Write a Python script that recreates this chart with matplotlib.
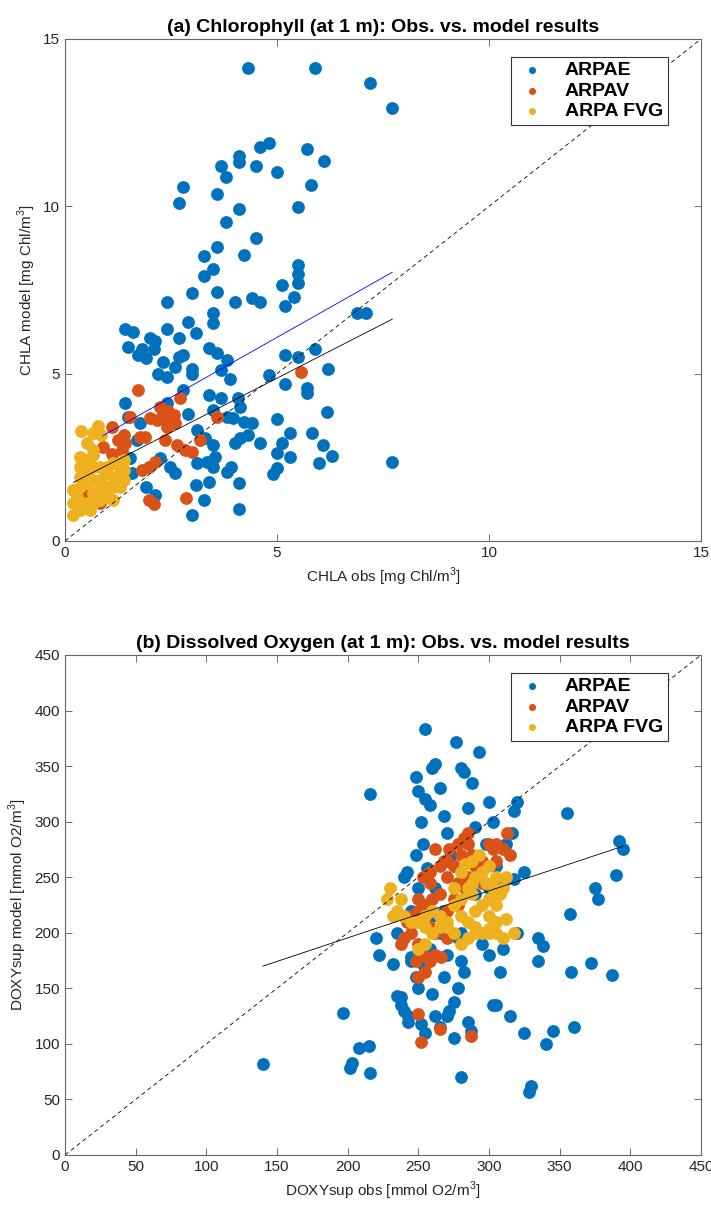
import numpy as np
import matplotlib
matplotlib.use("Agg")
import matplotlib.pyplot as plt

plt.rcParams['font.family'] = ['Liberation Sans', 'DejaVu Sans']
plt.rcParams['mathtext.fontset'] = 'custom'
plt.rcParams['mathtext.rm'] = 'Liberation Sans'

# colours (matlab default order)
c_arpae = '#0072BD'
c_arpav = '#D95319'
c_fvg = '#EDB120'

# ---- panel (a) chlorophyll ----
chl_arpae_x = [4.31, 5.90, 7.19, 7.72, 4.80, 4.60, 5.70, 4.10, 4.10, 3.69, 4.51, 6.11, 5.00, 3.80, 2.79,
               2.70, 3.59, 5.80, 4.10, 5.50, 3.80, 4.51, 3.59, 3.29, 4.21, 3.49, 5.50, 5.50, 3.29, 5.11,
               5.50, 5.41, 5.20, 4.40, 4.60, 4.01, 3.59, 3.00, 2.40, 3.48, 3.48, 2.89, 3.09, 2.40, 2.70,
               1.42, 1.61, 2.00, 2.12, 1.49, 1.81, 2.11, 1.71, 1.91, 2.30, 2.79, 2.70, 2.59, 2.20, 2.40,
               3.40, 3.59, 3.81, 3.69, 3.89, 3.00, 3.00, 2.79, 3.40, 3.69, 4.09, 4.13, 3.97, 4.21, 4.40,
               3.81, 3.50, 2.91, 2.40, 1.42, 1.49, 1.77, 3.11, 3.30, 3.50, 3.54, 3.34, 3.11, 3.50, 2.48,
               2.59, 2.24, 3.92, 3.81, 4.01, 4.13, 4.32, 4.60, 3.09, 3.40, 4.10, 3.29, 3.00, 4.10, 1.91,
               2.12, 1.57, 1.53, 1.69, 4.81, 5.20, 5.50, 5.90, 5.20, 5.70, 5.70, 6.21, 6.19, 5.01, 5.31,
               5.11, 5.01, 5.31, 5.82, 6.09, 6.29, 6.00, 5.01, 4.91, 6.88, 7.10, 7.72]
chl_arpae_y = [14.12, 14.14, 13.68, 12.93, 11.88, 11.78, 11.72, 11.50, 11.33, 11.22, 11.22, 11.36, 11.02, 10.87, 10.57,
               10.09, 10.36, 10.64, 9.91, 9.97, 9.53, 9.05, 8.77, 8.51, 8.55, 8.12, 8.24, 7.98, 7.92, 7.65,
               7.70, 7.30, 7.02, 7.25, 7.13, 7.13, 7.45, 7.42, 7.15, 6.80, 6.50, 6.55, 6.21, 6.32, 6.08,
               6.32, 6.25, 6.08, 5.98, 5.81, 5.73, 5.73, 5.56, 5.46, 5.36, 5.56, 5.49, 5.21, 4.99, 4.91,
               5.78, 5.61, 5.41, 5.11, 4.84, 5.14, 4.99, 4.51, 4.36, 4.26, 4.26, 4.01, 3.67, 3.57, 3.54,
               3.72, 3.91, 3.79, 4.11, 4.11, 3.72, 3.52, 3.32, 3.07, 2.87, 2.52, 2.37, 2.32, 2.22, 2.22,
               2.02, 2.47, 2.22, 2.07, 2.92, 3.07, 3.17, 2.92, 1.67, 1.77, 1.74, 1.23, 0.78, 0.95, 1.60,
               1.37, 2.02, 2.47, 3.02, 4.96, 5.56, 5.49, 5.73, 4.69, 4.56, 4.41, 5.13, 3.86, 3.64, 3.22,
               2.94, 2.64, 2.52, 3.22, 2.87, 2.54, 2.32, 2.17, 2.00, 6.80, 6.80, 2.35]

chl_arpav_x = [1.73, 2.71, 1.53, 2.24, 2.44, 2.56, 2.32, 2.16, 2.00, 2.48, 2.60, 2.40, 3.58, 1.12, 1.38,
               1.26, 1.42, 1.77, 1.89, 0.90, 1.34, 2.36, 2.63, 2.83, 2.99, 3.18, 2.12, 1.97, 1.81, 5.57,
               2.85, 1.97, 2.11, 0.39, 0.83, 1.10, 0.55]
chl_arpav_y = [4.51, 4.26, 3.72, 3.99, 3.87, 3.77, 3.77, 3.62, 3.67, 3.62, 3.52, 3.42, 3.72, 3.42, 3.17,
               3.02, 2.92, 3.12, 3.12, 2.82, 2.72, 3.02, 2.87, 2.72, 2.67, 3.02, 2.37, 2.22, 2.12, 5.06,
               1.29, 1.23, 1.10, 1.57, 1.13, 2.60, 1.30]

chl_fvg_x = [0.37, 0.79, 0.67, 0.86, 0.51, 0.67, 0.35, 0.51, 0.67, 0.35, 0.51, 0.67, 0.83, 0.98, 1.14,
             1.30, 1.38, 1.30, 1.14, 0.98, 0.83, 0.67, 0.51, 0.35, 0.35, 0.20, 0.20, 0.20, 0.35, 0.51,
             0.67, 0.83, 0.98, 1.14, 1.30, 0.98, 1.14, 0.83, 0.67, 0.59, 0.35, 0.28, 1.38, 1.38]
chl_fvg_y = [3.30, 3.44, 3.24, 3.17, 2.92, 2.72, 2.52, 2.42, 2.57, 2.22, 2.12, 2.22, 2.22, 2.22, 2.32,
             2.22, 2.12, 1.92, 1.92, 2.02, 1.82, 1.82, 1.72, 1.92, 1.62, 1.52, 1.13, 0.78, 0.93, 1.13,
             1.42, 1.52, 1.62, 1.62, 1.62, 1.32, 1.23, 1.23, 1.13, 0.93, 1.13, 1.32, 1.82, 2.42]

# regression lines (end points)
chl_fit_all_x = [0.20, 7.72]
chl_fit_all_y = [1.75, 6.63]
chl_fit_arpae_x = [0.90, 7.72]
chl_fit_arpae_y = [3.15, 8.03]

# ---- panel (b) oxygen ----
ox_arpae_x = [140, 197, 202, 203, 208, 215, 216, 216, 220, 222, 235, 238, 240, 243, 245, 248, 250, 252, 253,
              255, 255, 258, 260, 262, 265, 268, 270, 273, 275, 277, 280, 282, 285, 288, 290, 293, 298,
              300, 303, 290, 280, 278, 280, 282, 278, 275, 272, 270, 268, 265, 262, 260, 255, 252, 250,
              248, 245, 243, 240, 238, 275, 280, 285, 287, 295, 300, 303, 305, 308, 310, 315, 318, 320,
              320, 325, 325, 328, 330, 335, 335, 338, 340, 345, 355, 357, 358, 360, 372, 375, 377, 387,
              390, 392, 395, 310, 312, 316, 318, 305, 300, 260, 255, 250, 245, 235, 232, 242, 248, 256,
              262, 265, 268, 270, 258, 254, 250]
ox_arpae_y = [82, 128, 78, 83, 96, 98, 74, 325, 195, 180, 143, 135, 250, 125, 178, 340, 328, 300, 280,
              383, 320, 315, 348, 352, 330, 305, 290, 270, 260, 372, 348, 345, 312, 335, 295, 363, 280,
              318, 300, 235, 200, 195, 175, 165, 150, 138, 130, 125, 160, 115, 125, 145, 110, 118, 150,
              160, 175, 120, 130, 142, 105, 70, 120, 112, 190, 180, 135, 135, 165, 185, 125, 248, 200,
              318, 255, 110, 57, 62, 175, 195, 188, 100, 112, 308, 217, 165, 115, 173, 240, 230, 162,
              252, 283, 275, 245, 280, 290, 310, 260, 240, 215, 225, 240, 220, 200, 172, 255, 270, 258,
              240, 200, 220, 180, 185, 170, 160]

ox_arpav_x = [252, 265, 287, 250, 255, 250, 248, 253, 258, 262, 266, 270, 262, 258, 250, 245, 240, 242,
              238, 250, 255, 260, 265, 270, 275, 280, 285, 288, 290, 292, 283, 278, 275, 270, 265, 268,
              272, 278, 282, 285, 300, 303, 305, 310, 315, 313, 305, 295, 262, 265, 258, 253, 250, 270,
              258, 278, 285, 295, 245, 250]
ox_arpav_y = [102, 113, 107, 127, 165, 160, 175, 180, 175, 180, 178, 195, 200, 205, 210, 200, 195, 210,
              190, 220, 225, 230, 235, 250, 260, 270, 280, 270, 260, 250, 240, 245, 230, 220, 215, 265,
              275, 280, 285, 290, 280, 275, 280, 275, 270, 290, 265, 265, 275, 260, 245, 250, 230, 265,
              255, 225, 250, 245, 215, 190]

ox_fvg_x = [230, 228, 235, 240, 250, 255, 260, 265, 270, 265, 260, 255, 275, 280, 285, 290, 295, 300,
            305, 310, 318, 290, 295, 300, 305, 310, 312, 305, 300, 295, 290, 285, 280, 283, 288, 293,
            298, 303, 308, 288, 275, 280, 250, 245, 255, 238, 232, 290, 300, 312, 300, 305, 270, 275,
            280, 285, 288]
ox_fvg_y = [240, 230, 220, 215, 210, 205, 200, 205, 210, 215, 220, 215, 225, 215, 210, 205, 200, 200,
            200, 195, 200, 220, 225, 230, 225, 240, 250, 250, 260, 255, 250, 240, 255, 262, 265, 270,
            245, 240, 235, 235, 240, 230, 185, 210, 190, 230, 215, 200, 215, 212, 203, 210, 205, 200,
            190, 195, 245]

ox_fit_x = [140, 395]
ox_fit_y = [170, 278]

fig = plt.figure(figsize=(7.11, 12.05), dpi=100)
ax1 = fig.add_axes([65 / 711, 1 - 541 / 1205, 636 / 711, 502 / 1205])
ax2 = fig.add_axes([65 / 711, 1 - 1155 / 1205, 636 / 711, 500 / 1205])

txtcol = '#262626'
msize = 85


def style_axes(ax, lim, ticks, xlabel, ylabel, title):
    ax.set_xlim(0, lim)
    ax.set_ylim(0, lim)
    ax.set_xticks(ticks)
    ax.set_yticks(ticks)
    ax.tick_params(direction='in', length=5, width=0.6, top=True, right=True,
                   labelsize=11, colors='#555555', labelcolor=txtcol)
    for s in ax.spines.values():
        s.set_color('#666666')
        s.set_linewidth(0.8)
    ax.set_xlabel(xlabel, fontsize=11, color=txtcol)
    ax.set_ylabel(ylabel, fontsize=11, color=txtcol)
    ax.set_title(title, fontsize=14, fontweight='bold', pad=5)


# panel a
ax1.plot([0, 15], [0, 15], '--', color='k', lw=0.6, dashes=(5, 4), zorder=3)
ax1.scatter(chl_arpae_x, chl_arpae_y, s=msize, color=c_arpae, lw=0, label='ARPAE', zorder=2)
ax1.scatter(chl_arpav_x, chl_arpav_y, s=msize, color=c_arpav, lw=0, label='ARPAV', zorder=2)
ax1.scatter(chl_fvg_x, chl_fvg_y, s=msize, color=c_fvg, lw=0, label='ARPA FVG', zorder=2)
ax1.plot(chl_fit_arpae_x, chl_fit_arpae_y, color='blue', lw=0.6, zorder=3)
ax1.plot(chl_fit_all_x, chl_fit_all_y, color='k', lw=0.6, zorder=3)
style_axes(ax1, 15, [0, 5, 10, 15], r'CHLA obs [mg Chl/m$^3$]', r'CHLA model [mg Chl/m$^3$]',
           '(a) Chlorophyll (at 1 m): Obs. vs. model results')

# panel b
ax2.plot([0, 450], [0, 450], '--', color='k', lw=0.6, dashes=(5, 4), zorder=3)
ax2.scatter(ox_arpae_x, ox_arpae_y, s=msize, color=c_arpae, lw=0, label='ARPAE', zorder=2)
ax2.scatter(ox_arpav_x, ox_arpav_y, s=msize, color=c_arpav, lw=0, label='ARPAV', zorder=2)
ax2.scatter(ox_fvg_x, ox_fvg_y, s=msize, color=c_fvg, lw=0, label='ARPA FVG', zorder=2)
ax2.plot(ox_fit_x, ox_fit_y, color='k', lw=0.6, zorder=3)
style_axes(ax2, 450, np.arange(0, 451, 50), r'DOXYsup obs [mmol O2/m$^3$]',
           r'DOXYsup model [mmol O2/m$^3$]', '(b) Dissolved Oxygen (at 1 m): Obs. vs. model results')

for ax in (ax1, ax2):
    leg = ax.legend(loc='upper right', bbox_to_anchor=(0.963, 0.984), markerscale=0.55,
                    prop={'weight': 'bold', 'size': 14}, fancybox=False, framealpha=1,
                    edgecolor='#333333', handletextpad=0.9, borderpad=0.25, labelspacing=0.15,
                    handlelength=1.6)
    leg.get_frame().set_linewidth(0.8)

fig.savefig('out.png', dpi=100)
